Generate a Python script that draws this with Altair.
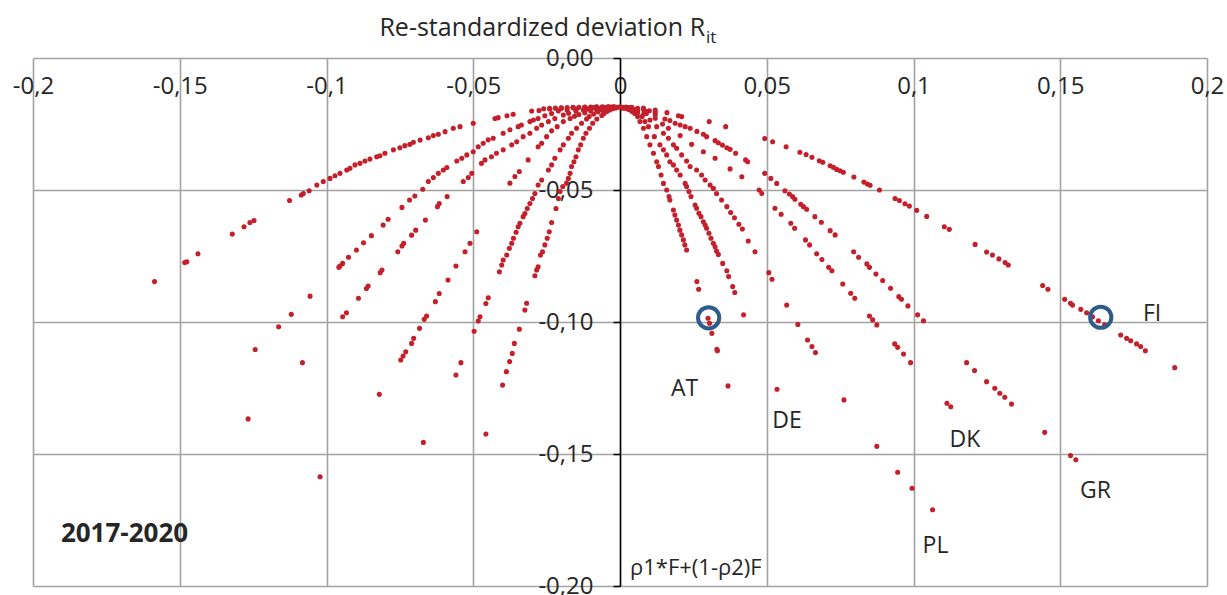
import altair as alt
import pandas as pd

# ---------------- data ----------------
core = [(-0.026,-0.0192),(-0.024,-0.0191),(-0.022,-0.0190),(-0.020,-0.0189),(-0.018,-0.0188),
        (-0.016,-0.0187),(-0.014,-0.0187),(-0.012,-0.0186),(-0.010,-0.0186),(-0.008,-0.0185),
        (-0.006,-0.0185),(-0.004,-0.0185),(-0.002,-0.0185),(0.000,-0.0185),(0.002,-0.0186),
        (0.004,-0.0188),(0.006,-0.0191),(0.008,-0.0195),(0.010,-0.0200),(0.012,-0.0206),
        (-0.015,-0.0195),(-0.011,-0.0193),(-0.007,-0.0192),(-0.003,-0.0191),(0.001,-0.0190),
        (0.005,-0.0196),(0.009,-0.0205)]

left_1 = [(-0.004,-0.0185),(-0.008,-0.0186),(-0.012,-0.0187),(-0.016,-0.0188),(-0.020,-0.0190),
          (-0.0239,-0.0193),(-0.0276,-0.0199),(-0.0301,-0.0201),(-0.0364,-0.0213),(-0.0385,-0.0219),
          (-0.0415,-0.0226),(-0.0426,-0.0229),(-0.0500,-0.0247),(-0.0545,-0.0260),(-0.0568,-0.0266),
          (-0.0596,-0.0279),(-0.0619,-0.0289),(-0.0636,-0.0294),(-0.0653,-0.0302),(-0.0681,-0.0311),
          (-0.0704,-0.0319),(-0.0716,-0.0327),(-0.0733,-0.0332),(-0.0750,-0.0340),(-0.0772,-0.0348),
          (-0.0801,-0.0361),(-0.0818,-0.0370),(-0.0829,-0.0374),(-0.0852,-0.0383),(-0.0869,-0.0390),
          (-0.0886,-0.0399),(-0.0903,-0.0405),(-0.0920,-0.0418),(-0.0931,-0.0424),(-0.0954,-0.0437),
          (-0.0971,-0.0446),(-0.0988,-0.0456),(-0.1011,-0.0468),(-0.1033,-0.0481),(-0.1059,-0.0503),
          (-0.1079,-0.0513),(-0.1086,-0.0519),(-0.1126,-0.0540),(-0.1247,-0.0616),(-0.1261,-0.0623),
          (-0.1281,-0.0639),(-0.1321,-0.0667),(-0.1438,-0.0742),(-0.1476,-0.0772),(-0.1483,-0.0775),
          (-0.1586,-0.0847)]

left_2 = [(-0.003,-0.0186),(-0.006,-0.0187),(-0.009,-0.0188),(-0.012,-0.0190),(-0.015,-0.0193),
          (-0.018,-0.0197),(-0.0210,-0.0201),(-0.0233,-0.0210),(-0.0256,-0.0219),(-0.0279,-0.0229),
          (-0.0295,-0.0235),(-0.0307,-0.0241),(-0.0336,-0.0254),(-0.0347,-0.0260),(-0.0375,-0.0272),
          (-0.0398,-0.0285),(-0.0432,-0.0304),(-0.0449,-0.0310),(-0.0466,-0.0323),(-0.0483,-0.0336),
          (-0.0500,-0.0355),(-0.0522,-0.0367),(-0.0539,-0.0380),(-0.0556,-0.0390),(-0.0590,-0.0415),
          (-0.0602,-0.0424),(-0.0619,-0.0437),(-0.0636,-0.0453),(-0.0653,-0.0468),(-0.0672,-0.0497),
          (-0.0699,-0.0523),(-0.0717,-0.0538),(-0.0743,-0.0566),(-0.0790,-0.0611),(-0.0807,-0.0633),
          (-0.0847,-0.0673),(-0.0874,-0.0700),(-0.0898,-0.0727),(-0.0925,-0.0755),(-0.0945,-0.0778),
          (-0.0954,-0.0788),(-0.0958,-0.0793),(-0.1056,-0.0902),(-0.1120,-0.0971),(-0.1163,-0.1018),
          (-0.1243,-0.1104)]

left_3 = [(-0.0025,-0.0186),(-0.005,-0.0188),(-0.0075,-0.0190),(-0.010,-0.0193),(-0.0125,-0.0197),
          (-0.015,-0.0202),(-0.0175,-0.0209),(-0.0193,-0.0216),(-0.0222,-0.0229),(-0.0244,-0.0241),
          (-0.0267,-0.0254),(-0.0284,-0.0266),(-0.0307,-0.0285),(-0.0330,-0.0298),(-0.0352,-0.0317),
          (-0.0369,-0.0329),(-0.0398,-0.0348),(-0.0421,-0.0361),(-0.0438,-0.0374),(-0.0460,-0.0386),
          (-0.0472,-0.0399),(-0.0505,-0.0437),(-0.0517,-0.0453),(-0.0534,-0.0468),(-0.0589,-0.0525),
          (-0.0616,-0.0551),(-0.0622,-0.0563),(-0.0663,-0.0614),(-0.0696,-0.0652),(-0.0710,-0.0671),
          (-0.0737,-0.0702),(-0.0743,-0.0712),(-0.0757,-0.0734),(-0.0811,-0.0803),(-0.0817,-0.0813),
          (-0.0858,-0.0864),(-0.0864,-0.0873),(-0.0891,-0.0910),(-0.0932,-0.0965),(-0.0945,-0.0980),
          (-0.1082,-0.1154),(-0.1267,-0.1367)]

left_4 = [(-0.002,-0.0187),(-0.004,-0.0189),(-0.006,-0.0192),(-0.008,-0.0196),(-0.010,-0.0201),
          (-0.012,-0.0207),(-0.014,-0.0214),(-0.0155,-0.0221),(-0.0170,-0.0229),(-0.0193,-0.0241),
          (-0.0214,-0.0260),(-0.0233,-0.0276),(-0.0250,-0.0298),(-0.0267,-0.0323),(-0.0279,-0.0336),
          (-0.0313,-0.0386),(-0.0343,-0.0430),(-0.0358,-0.0449),(-0.0375,-0.0474),(-0.0488,-0.0658),
          (-0.0511,-0.0702),(-0.0528,-0.0734),(-0.0559,-0.0788),(-0.0586,-0.0841),(-0.0616,-0.0892),
          (-0.0629,-0.0923),(-0.0659,-0.0977),(-0.0667,-0.0990),(-0.0683,-0.1024),(-0.0703,-0.1062),
          (-0.0710,-0.1081),(-0.0730,-0.1113),(-0.0739,-0.1129),(-0.0747,-0.1144),(-0.0820,-0.1274),
          (-0.1022,-0.1586)]

left_5 = [(-0.0015,-0.0187),(-0.003,-0.0190),(-0.0045,-0.0193),(-0.006,-0.0198),(-0.0075,-0.0204),
          (-0.009,-0.0212),(-0.0105,-0.0222),(-0.0114,-0.0231),(-0.0131,-0.0247),(-0.0148,-0.0266),
          (-0.0165,-0.0285),(-0.0176,-0.0304),(-0.0193,-0.0329),(-0.0204,-0.0348),(-0.0222,-0.0380),
          (-0.0233,-0.0405),(-0.0244,-0.0424),(-0.0267,-0.0462),(-0.0279,-0.0481),(-0.0290,-0.0513),
          (-0.0298,-0.0532),(-0.0307,-0.0551),(-0.0316,-0.0570),(-0.0324,-0.0589),(-0.0330,-0.0601),
          (-0.0341,-0.0626),(-0.0347,-0.0639),(-0.0354,-0.0660),(-0.0363,-0.0683),(-0.0369,-0.0702),
          (-0.0377,-0.0721),(-0.0386,-0.0746),(-0.0398,-0.0765),(-0.0403,-0.0784),(-0.0411,-0.0810),
          (-0.0449,-0.0908),(-0.0457,-0.0930),(-0.0477,-0.0980),(-0.0483,-0.0996),(-0.0497,-0.1035),
          (-0.0542,-0.1154),(-0.0559,-0.1201),(-0.0670,-0.1456)]

left_6 = [(-0.0008,-0.0187),(-0.0015,-0.0189),(-0.0025,-0.0192),(-0.0035,-0.0197),(-0.0045,-0.0203),
          (-0.0055,-0.0210),(-0.0062,-0.0218),(-0.0079,-0.0231),(-0.0093,-0.0247),(-0.0104,-0.0266),
          (-0.0116,-0.0285),(-0.0125,-0.0304),(-0.0134,-0.0329),(-0.0142,-0.0348),(-0.0150,-0.0374),
          (-0.0157,-0.0393),(-0.0165,-0.0411),(-0.0170,-0.0437),(-0.0176,-0.0456),(-0.0182,-0.0474),
          (-0.0195,-0.0487),(-0.0204,-0.0506),(-0.0210,-0.0532),(-0.0218,-0.0570),(-0.0233,-0.0623),
          (-0.0241,-0.0658),(-0.0248,-0.0683),(-0.0256,-0.0708),(-0.0264,-0.0734),(-0.0271,-0.0746),
          (-0.0279,-0.0791),(-0.0284,-0.0803),(-0.0290,-0.0825),(-0.0318,-0.0929),(-0.0324,-0.0955),
          (-0.0343,-0.1027),(-0.0360,-0.1081),(-0.0367,-0.1119),(-0.0376,-0.1150),(-0.0387,-0.1188),
          (-0.0400,-0.1239),(-0.0457,-0.1424)]

right_at = [(0.001,-0.0187),(0.002,-0.0190),(0.003,-0.0195),(0.004,-0.0202),(0.005,-0.0210),
            (0.006,-0.0222),(0.0068,-0.0241),(0.0080,-0.0266),(0.0091,-0.0298),(0.0102,-0.0329),
            (0.0114,-0.0361),(0.0125,-0.0393),(0.0131,-0.0411),(0.0140,-0.0443),(0.0148,-0.0475),
            (0.0159,-0.0500),(0.0167,-0.0525),(0.0170,-0.0538),(0.0182,-0.0576),(0.0187,-0.0595),
            (0.0193,-0.0614),(0.0199,-0.0633),(0.0204,-0.0652),(0.0210,-0.0670),(0.0216,-0.0689),
            (0.0221,-0.0708),(0.0227,-0.0727),(0.0262,-0.0847),(0.0268,-0.0876),(0.0300,-0.0986),
            (0.0305,-0.1005),(0.0313,-0.1043),(0.0330,-0.1103),(0.0332,-0.1109),(0.0368,-0.1242)]

right_de = [(0.002,-0.0189),(0.004,-0.0196),(0.006,-0.0207),(0.0075,-0.0222),(0.0085,-0.0241),
            (0.0097,-0.0260),(0.0117,-0.0298),(0.0136,-0.0329),(0.0148,-0.0348),(0.0159,-0.0367),
            (0.0170,-0.0393),(0.0182,-0.0405),(0.0193,-0.0424),(0.0205,-0.0443),(0.0222,-0.0475),
            (0.0227,-0.0487),(0.0235,-0.0506),(0.0242,-0.0525),(0.0256,-0.0557),(0.0261,-0.0569),
            (0.0269,-0.0588),(0.0276,-0.0601),(0.0284,-0.0620),(0.0290,-0.0633),(0.0295,-0.0645),
            (0.0303,-0.0664),(0.0310,-0.0683),(0.0318,-0.0702),(0.0324,-0.0715),(0.0329,-0.0731),
            (0.0335,-0.0744),(0.0350,-0.0778),(0.0364,-0.0806),(0.0370,-0.0828),(0.0384,-0.0866),
            (0.0391,-0.0888),(0.0421,-0.0973),(0.0535,-0.1255)]

right_pl = [(0.002,-0.0188),(0.004,-0.0193),(0.006,-0.0201),(0.008,-0.0213),(0.0102,-0.0235),
            (0.0125,-0.0260),(0.0148,-0.0285),(0.0165,-0.0304),(0.0182,-0.0329),(0.0193,-0.0342),
            (0.0210,-0.0367),(0.0227,-0.0390),(0.0239,-0.0411),(0.0261,-0.0424),(0.0278,-0.0443),
            (0.0290,-0.0462),(0.0307,-0.0481),(0.0318,-0.0494),(0.0329,-0.0513),(0.0346,-0.0538),
            (0.0364,-0.0563),(0.0377,-0.0585),(0.0390,-0.0605),(0.0405,-0.0630),(0.0417,-0.0648),
            (0.0437,-0.0693),(0.0460,-0.0734),(0.0507,-0.0813),(0.0518,-0.0838),(0.0568,-0.0936),
            (0.0606,-0.1009),(0.0639,-0.1068),(0.0654,-0.1093),(0.0666,-0.1116),(0.0763,-0.1295),
            (0.0875,-0.1471),(0.0946,-0.1569),(0.0995,-0.1630),(0.1065,-0.1711)]

right_dk = [(0.003,-0.0189),(0.006,-0.0198),(0.009,-0.0210),(0.012,-0.0228),(0.0145,-0.0250),
            (0.0165,-0.0266),(0.0205,-0.0294),(0.0244,-0.0327),(0.0284,-0.0355),(0.0324,-0.0380),
            (0.0375,-0.0420),(0.0415,-0.0450),(0.0474,-0.0500),(0.0483,-0.0513),(0.0528,-0.0569),
            (0.0549,-0.0592),(0.0582,-0.0626),(0.0595,-0.0645),(0.0632,-0.0689),(0.0646,-0.0708),
            (0.0670,-0.0742),(0.0688,-0.0763),(0.0711,-0.0793),(0.0722,-0.0806),(0.0759,-0.0856),
            (0.0786,-0.0891),(0.0800,-0.0910),(0.0850,-0.0977),(0.0861,-0.0992),(0.0875,-0.1011),
            (0.0936,-0.1083),(0.0946,-0.1096),(0.0966,-0.1121),(0.0990,-0.1154),(0.1114,-0.1308),
            (0.1127,-0.1321)]

right_gr = [(0.003,-0.0188),(0.006,-0.0193),(0.009,-0.0203),(0.012,-0.0215),(0.0153,-0.0231),
            (0.0170,-0.0237),(0.0188,-0.0247),(0.0205,-0.0254),(0.0222,-0.0260),(0.0239,-0.0266),
            (0.0262,-0.0278),(0.0284,-0.0289),(0.0295,-0.0298),(0.0324,-0.0313),(0.0335,-0.0321),
            (0.0349,-0.0330),(0.0364,-0.0340),(0.0375,-0.0346),(0.0394,-0.0361),(0.0428,-0.0386),
            (0.0435,-0.0393),(0.0493,-0.0437),(0.0514,-0.0456),(0.0534,-0.0475),(0.0562,-0.0503),
            (0.0577,-0.0515),(0.0588,-0.0525),(0.0596,-0.0535),(0.0616,-0.0554),(0.0625,-0.0563),
            (0.0636,-0.0573),(0.0664,-0.0601),(0.0686,-0.0622),(0.0716,-0.0654),(0.0733,-0.0670),
            (0.0796,-0.0734),(0.0813,-0.0755),(0.0841,-0.0780),(0.0850,-0.0793),(0.0872,-0.0818),
            (0.0895,-0.0843),(0.0922,-0.0872),(0.0950,-0.0904),(0.0959,-0.0914),(0.0981,-0.0939),
            (0.1014,-0.0973),(0.1034,-0.0995),(0.1181,-0.1154),(0.1208,-0.1184),(0.1249,-0.1226),
            (0.1277,-0.1251),(0.1294,-0.1270),(0.1311,-0.1285),(0.1334,-0.1311),(0.1447,-0.1418),
            (0.1535,-0.1506),(0.1553,-0.1522)]

right_fi = [(0.004,-0.0187),(0.008,-0.0190),(0.012,-0.0197),(0.016,-0.0207),(0.0199,-0.0219),
            (0.0210,-0.0222),(0.0304,-0.0241),(0.0360,-0.0260),(0.0493,-0.0305),(0.0520,-0.0317),
            (0.0566,-0.0336),(0.0613,-0.0357),(0.0634,-0.0366),(0.0654,-0.0376),(0.0679,-0.0389),
            (0.0691,-0.0395),(0.0716,-0.0408),(0.0727,-0.0414),(0.0738,-0.0422),(0.0750,-0.0427),
            (0.0761,-0.0433),(0.0797,-0.0451),(0.0831,-0.0470),(0.0843,-0.0477),(0.0852,-0.0482),
            (0.0884,-0.0500),(0.0937,-0.0532),(0.0952,-0.0540),(0.0971,-0.0552),(0.0986,-0.0561),
            (0.1011,-0.0577),(0.1045,-0.0600),(0.1105,-0.0639),(0.1122,-0.0649),(0.1210,-0.0706),
            (0.1249,-0.0735),(0.1269,-0.0746),(0.1291,-0.0761),(0.1312,-0.0775),(0.1323,-0.0784),
            (0.1440,-0.0862),(0.1458,-0.0876),(0.1515,-0.0914),(0.1535,-0.0929),(0.1542,-0.0936),
            (0.1570,-0.0952),(0.1590,-0.0965),(0.1610,-0.0980),(0.1630,-0.0995),(0.1651,-0.1011),
            (0.1706,-0.1049),(0.1726,-0.1062),(0.1740,-0.1071),(0.1760,-0.1083),(0.1774,-0.1093),
            (0.1790,-0.1109),(0.1890,-0.1173)]

highlight_x = [0.0302, 0.1638]
highlight_y = [-0.0984, -0.0982]

country_labels = ["AT", "DE", "DK", "GR", "PL", "FI"]
country_x = [0.0220, 0.0569, 0.1175, 0.1620, 0.1075, 0.1813]
country_y = [-0.1254, -0.1375, -0.1447, -0.1640, -0.1848, -0.0970]

x_ticks = [-0.2, -0.15, -0.1, -0.05, 0, 0.05, 0.1, 0.15, 0.2]
y_ticks = [0, -0.05, -0.1, -0.15, -0.2]

# ---------------- build tables ----------------
branches = [core, left_1, left_2, left_3, left_4, left_5, left_6,
            right_at, right_de, right_pl, right_dk, right_gr, right_fi]
rows = [{"x": px, "y": py} for br in branches for (px, py) in br]
pts = pd.DataFrame(rows)
hl = pd.DataFrame({"x": highlight_x, "y": highlight_y})
lab = pd.DataFrame({"t": country_labels, "x": country_x, "y": country_y})

W, H = 1174, 528
RED = "#C4202B"
FONT = "Open Sans"
TXT = "#262626"

xscale = alt.Scale(domain=[-0.2, 0.2], nice=False, zero=False)
yscale = alt.Scale(domain=[-0.2, 0.0], nice=False, zero=False)

x_axis = alt.Axis(values=x_ticks, orient="bottom", offset=-H, title=None,
                  labelExpr="(datum.value < -1e-9 ? '-' : '') + replace(format(abs(datum.value), '~g'), '.', ',')",
                  domain=False, ticks=False, grid=True, gridColor="#A2A2A2", gridWidth=1.6,
                  labelPadding=16, labelFontSize=24, labelFont=FONT, labelColor=TXT,
                  labelFlush=False, labelOverlap=False)
y_axis = alt.Axis(values=y_ticks, orient="left", offset=-W / 2, title=None,
                  labelExpr="(datum.value < -1e-9 ? '-' : '') + replace(format(abs(datum.value), '.2f'), '.', ',')",
                  domain=True, domainColor="black", domainWidth=1.5,
                  ticks=True, tickColor="black", tickWidth=1.5, tickSize=7,
                  grid=True, gridColor="#A2A2A2", gridWidth=1.6,
                  labelPadding=20, labelFontSize=24, labelFont=FONT, labelColor=TXT,
                  labelOverlap=False)

X = alt.X("x:Q", scale=xscale, axis=x_axis)
Y = alt.Y("y:Q", scale=yscale, axis=y_axis)

points = alt.Chart(pts).mark_circle(size=26, color=RED, opacity=1).encode(x=X, y=Y)

rings = alt.Chart(hl).mark_point(shape="circle", filled=False, size=450,
                                 strokeWidth=4, color="#2E5C8A", opacity=1).encode(x=X, y=Y)

labels = alt.Chart(lab).mark_text(font=FONT, fontSize=23, color=TXT,
                                  align="center", baseline="middle").encode(
    x=X, y=Y, text="t:N")

def note(text, x, y, **kw):
    d = pd.DataFrame({"t": [text], "x": [x], "y": [y]})
    return alt.Chart(d).mark_text(font=FONT, color=TXT, **kw).encode(x=X, y=Y, text="t:N")

period = note("2017-2020", -0.1905, -0.1803, fontSize=26, fontWeight="bold",
              align="left", baseline="middle")
formula = note("ρ1*F+(1-ρ2)F", 0.0034, -0.1932, fontSize=22, align="left", baseline="middle")
title_main = note("Re-standardized deviation R", 0.0290, 0.0084, fontSize=25,
                  align="right", baseline="alphabetic")
title_sub = note("it", 0.0293, 0.0058, fontSize=17, align="left", baseline="alphabetic")

chart = alt.layer(points, rings, labels, period, formula, title_main, title_sub).properties(
    width=W, height=H,
    background="white",
    autosize=alt.AutoSizeParams(type="none"),
    padding={"left": 33, "top": 58, "right": 20, "bottom": 9},
).configure_view(stroke=None)

chart.save("out.html", embed_options={"renderer": "svg", "actions": False})
